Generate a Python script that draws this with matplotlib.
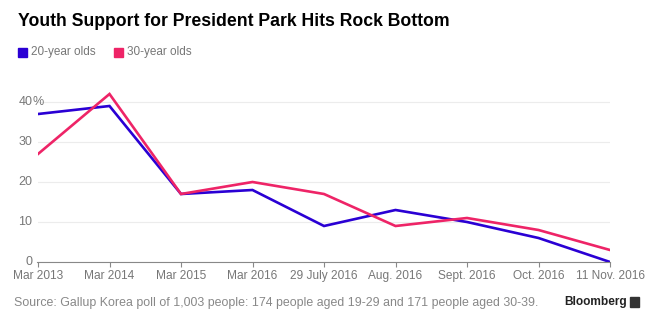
import matplotlib.pyplot as plt
import matplotlib.transforms as mtransforms

# poll dates and approval (%) by age group
dates = ['Mar 2013', 'Mar 2014', 'Mar 2015', 'Mar 2016', '29 July 2016',
         'Aug. 2016', 'Sept. 2016', 'Oct. 2016', '11 Nov. 2016']
twenties = [37, 39, 17, 18, 9, 13, 10, 6, 0]
thirties = [27, 42, 17, 20, 17, 9, 11, 8, 3]
yticks = [0, 10, 20, 30, 40]

blue = '#2a00d4'
pink = '#ee2467'
grey = '#777777'

plt.rcParams['font.family'] = ['Liberation Sans', 'DejaVu Sans']

fig = plt.figure(figsize=(6.57, 3.23), dpi=100)
ax = fig.add_axes([38/657, 1-262/323, (610-38)/657, (262-88)/323])

x = range(len(dates))
ax.plot(x, twenties, color=blue, lw=1.9, solid_joinstyle='miter')
ax.plot(x, thirties, color=pink, lw=1.9, solid_joinstyle='miter')

ax.set_xlim(0, len(dates)-1)
ax.set_ylim(0, 43.5)
ax.set_yticks(yticks)
ax.set_yticklabels([])
ax.set_xticks(list(x))
ax.set_xticklabels(dates)

# y labels right-aligned with a hanging % on the top one
trans = mtransforms.blended_transform_factory(ax.transAxes, ax.transData)
lx = (32.5-38)/572
for v in yticks:
    ax.text(lx, v, str(v), transform=trans, ha='right', va='center',
            fontsize=9, color=grey)
ax.text(lx, yticks[-1], '%', transform=trans, ha='left', va='center',
        fontsize=9, color=grey)

for s in ['top', 'right', 'left']:
    ax.spines[s].set_visible(False)
ax.spines['bottom'].set_color('#888888')
ax.spines['bottom'].set_bounds(-0.02, len(dates)-1)
ax.tick_params(axis='x', colors='#888888', length=3.5, labelcolor=grey,
               labelsize=8.6, pad=2)
ax.tick_params(axis='y', length=0)
ax.grid(axis='y', color='#ececec', lw=0.8)
ax.set_axisbelow(True)

fig.text(18/657, 1-22/323, 'Youth Support for President Park Hits Rock Bottom',
         fontsize=12.7, fontweight='bold', va='center', ha='left')

# legend
fig.patches.append(plt.Rectangle((18/657, 1-57/323), 9/657, 9/323,
                                 color=blue, transform=fig.transFigure))
fig.text(31/657, 1-52.5/323, '20-year olds', fontsize=8.5, color=grey, va='center')
fig.patches.append(plt.Rectangle((114/657, 1-57/323), 9/657, 9/323,
                                 color=pink, transform=fig.transFigure))
fig.text(127/657, 1-52.5/323, '30-year olds', fontsize=8.5, color=grey, va='center')

fig.text(14/657, 1-303/323,
         'Source: Gallup Korea poll of 1,003 people: 174 people aged 19-29 and 171 people aged 30-39.',
         fontsize=8.9, color='#888888', va='center')
fig.text(564/657, 1-302/323, 'Bloomberg', fontsize=8.6, fontweight='bold',
         color='#222222', va='center')
fig.patches.append(plt.Rectangle((630/657, 1-307/323), 9/657, 10/323,
                                 color='#333333', transform=fig.transFigure))

fig.savefig('out.png', dpi=100)
